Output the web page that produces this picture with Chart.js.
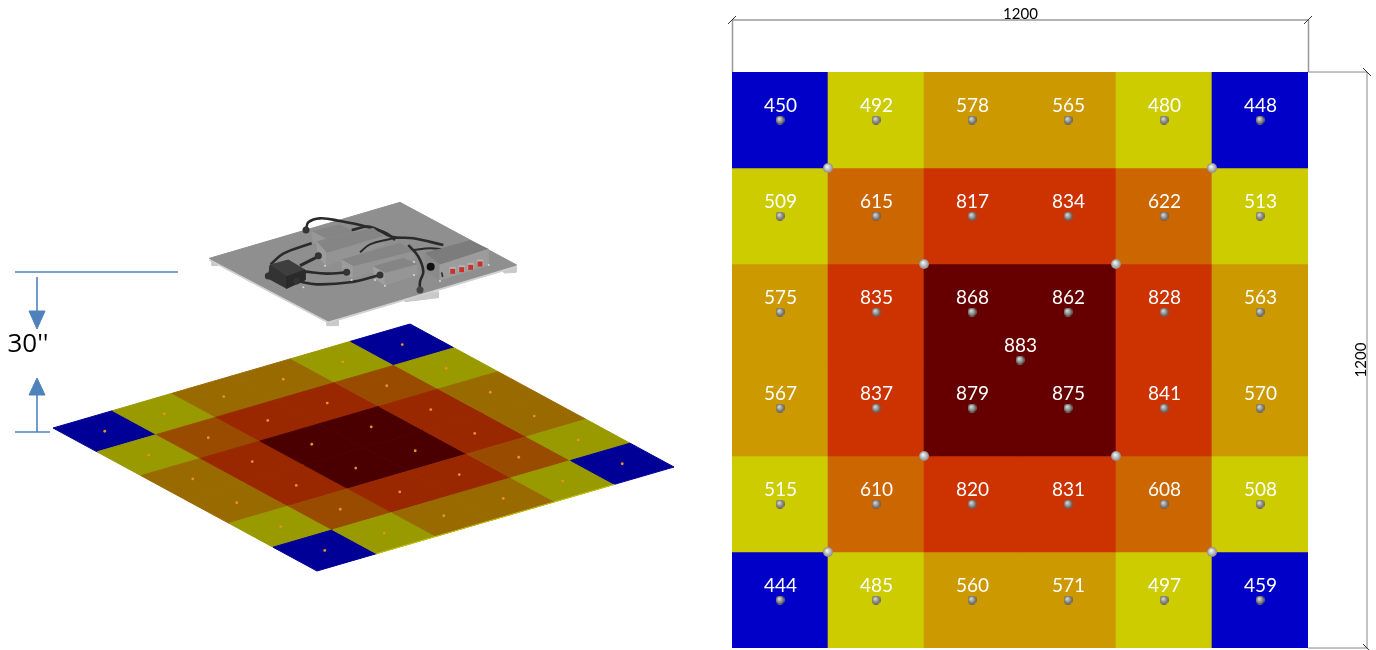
<!DOCTYPE html>
<html>
<head>
<meta charset="utf-8">
<title>Illuminance map</title>
<script src="https://cdn.jsdelivr.net/npm/chart.js@4"></script>
<style>
    html, body { margin: 0; padding: 0; background: #fff; overflow: hidden; }
    canvas { position: absolute; top: 0; }
    #isoChart { left: 0; }
    #mapChart { left: 690px; }
</style>
</head>
<body>
<canvas id="isoChart" width="690" height="650"></canvas>
<canvas id="mapChart" width="686" height="650"></canvas>
<script>
// valores
const columns = ['100', '300', '500', '700', '900', '1100'];
const row1 = [450, 492, 578, 565, 480, 448];
const row2 = [509, 615, 817, 834, 622, 513];
const row3 = [575, 835, 868, 862, 828, 563];
const row4 = [567, 837, 879, 875, 841, 570];
const row5 = [515, 610, 820, 831, 608, 508];
const row6 = [444, 485, 560, 571, 497, 459];
const rows = [row1, row2, row3, row4, row5, row6];
const centerValue = 883;
const dimensionLabel = '1200';
const heightLabel = "30''";

const CELL = 200;
const bandLimits = [470, 540, 600, 700, 850, 9999];
const bandColors = ['#0000c8', '#cccc00', '#cc9900', '#cc6600', '#cc3300', '#660000'];
const isoColors = ['#000096', '#999900', '#996a00', '#994c00', '#992800', '#4a0000'];

function band(v) {
    return bandLimits.findIndex(function (l) { return v < l; });
}

// bolinhas dos sensores
function sphere(size, light, dark) {
    const c = document.createElement('canvas');
    c.width = size; c.height = size;
    const g = c.getContext('2d');
    const r = size / 2;
    const grad = g.createRadialGradient(r * 0.8, r * 0.7, 0.5, r, r, r);
    grad.addColorStop(0, light);
    grad.addColorStop(1, dark);
    g.fillStyle = grad;
    g.beginPath();
    g.arc(r, r, r, 0, Math.PI * 2);
    g.fill();
    return c;
}

const sensorPoints = [];
rows.forEach(function (row, r) {
    row.forEach(function (v, c) {
        sensorPoints.push({ x: c * CELL + CELL / 2, y: r * CELL + CELL / 2, v: v });
    });
});
sensorPoints.push({ x: 600, y: 600, v: centerValue });
const cornerPoints = [[200, 200], [1000, 200], [400, 400], [800, 400], [400, 800], [800, 800], [200, 1000], [1000, 1000]]
    .map(function (p) { return { x: p[0], y: p[1] }; });

// ---- mapa da direita ----
const valueLabels = {
    id: 'valueLabels',
    afterDatasetsDraw: function (chart) {
        const g = chart.ctx;
        const xs = chart.scales.x2, ys = chart.scales.y2;
        g.save();
        g.fillStyle = '#fff';
        g.font = '19px Lato';
        g.textAlign = 'center';
        g.textBaseline = 'middle';
        sensorPoints.forEach(function (p) {
            g.fillText(p.v, xs.getPixelForValue(p.x) + 0.5, ys.getPixelForValue(p.y) - 14);
        });
        g.restore();
    }
};

const dimensions = {
    id: 'dimensions',
    afterDraw: function (chart) {
        const g = chart.ctx;
        const xs = chart.scales.x2, ys = chart.scales.y2;
        const x0 = xs.getPixelForValue(0), x1 = xs.getPixelForValue(1200);
        const y0 = ys.getPixelForValue(0), y1 = ys.getPixelForValue(1200);
        const topY = y0 - 52, rightX = x1 + 59;
        function seg(color, width, a, b, c, d) {
            g.strokeStyle = color;
            g.lineWidth = width;
            g.beginPath();
            g.moveTo(a, b);
            g.lineTo(c, d);
            g.stroke();
        }
        g.save();
        seg('#999', 1.5, x0 + 0.5, topY, x1, topY);
        seg('#999', 1.5, x0 + 0.5, topY, x0 + 0.5, y0);
        seg('#999', 1.5, x1 + 0.5, topY, x1 + 0.5, y0);
        seg('#888', 1, x1, y0, rightX, y0);
        seg('#888', 1, x1, y1, rightX, y1);
        seg('#888', 1, rightX, y0, rightX, y1);
        seg('#333', 1, x0 - 4, topY + 4, x0 + 4, topY - 4);
        seg('#333', 1, x1 - 4, topY + 4, x1 + 4, topY - 4);
        seg('#333', 1, rightX - 4, y0 - 4, rightX + 4, y0 + 4);
        seg('#333', 1, rightX - 4, y1 - 4, rightX + 4, y1 + 4);
        g.fillStyle = '#000';
        g.font = '15px Lato';
        g.textAlign = 'center';
        g.textBaseline = 'middle';
        g.fillText(dimensionLabel, (x0 + x1) / 2 + 0.5, topY - 6);
        g.translate(rightX - 6, (y0 + y1) / 2);
        g.rotate(-Math.PI / 2);
        g.fillText(dimensionLabel, 0, 0);
        g.restore();
    }
};

const cellDatasets = rows.map(function (row) {
    return {
        type: 'bar',
        data: row.map(function () { return CELL; }),
        backgroundColor: row.map(function (v) { return bandColors[band(v)]; }),
        borderWidth: 0,
        grouped: false,
        barPercentage: 1,
        categoryPercentage: 1,
        xAxisID: 'x',
        yAxisID: 'y',
        order: 5
    };
});

new Chart(document.getElementById('mapChart'), {
    data: {
        labels: columns,
        datasets: cellDatasets.concat([
            {
                type: 'scatter',
                data: sensorPoints,
                pointStyle: sphere(9, '#d8d8d8', '#5a5a5a'),
                pointRadius: 4.5,
                xAxisID: 'x2',
                yAxisID: 'y2',
                order: 1
            },
            {
                type: 'scatter',
                data: cornerPoints,
                pointStyle: sphere(10, '#f2f2f2', '#8a8a8a'),
                pointRadius: 5,
                xAxisID: 'x2',
                yAxisID: 'y2',
                clip: false,
                order: 1
            }
        ])
    },
    options: {
        responsive: false,
        animation: false,
        layout: { autoPadding: false, padding: { left: 42, right: 68, top: 72, bottom: 2 } },
        plugins: { legend: { display: false }, tooltip: { enabled: false } },
        scales: {
            x: { display: false, stacked: true, offset: true, grid: { offset: true } },
            y: { display: false, stacked: true, reverse: true, min: 0, max: 1200 },
            x2: { type: 'linear', display: false, min: 0, max: 1200 },
            y2: { type: 'linear', display: false, reverse: true, min: 0, max: 1200 }
        }
    },
    plugins: [valueLabels, dimensions]
});

// ---- vista isométrica da esquerda ----
function project(mx, my) {
    return {
        x: 53 + (357 * mx + 264 * my) / 1200,
        y: 428 + (-104 * mx + 143 * my) / 1200
    };
}
// coordenadas do recorte ampliado do equipamento
function z(p) { return { x: 200 + p[0] / 3, y: 195 + p[1] / 3 }; }

const layers = [];
function poly(points, color) {
    layers.push({
        data: points.concat([points[0]]),
        showLine: true,
        fill: 'shape',
        backgroundColor: color,
        borderColor: color,
        borderWidth: 1,
        pointRadius: 0
    });
}
function shape(list, color) { poly(list.map(z), color); }
function line(points, color, width, tension) {
    layers.push({
        data: points,
        showLine: true,
        fill: false,
        borderColor: color,
        borderWidth: width,
        tension: tension || 0,
        pointRadius: 0
    });
}
function cable(list, width) { line(list.map(z), '#2a2a2a', width || 2.6, 0.4); }
function dots(list, color, radius, style) {
    layers.push({
        data: list,
        showLine: false,
        pointRadius: radius,
        pointStyle: style || 'circle',
        pointBackgroundColor: color,
        pointBorderWidth: 0
    });
}

// placa de sensores
rows.forEach(function (row, r) {
    row.forEach(function (v, c) {
        const x = c * CELL, y = r * CELL;
        poly([project(x, y), project(x + CELL, y), project(x + CELL, y + CELL), project(x, y + CELL)], isoColors[band(v)]);
    });
});
line([project(200, 1200), project(1000, 1200)], '#c4c400', 1);
dots(sensorPoints.slice(0, 36).map(function (p) { return project(p.x, p.y); }), '#e8902a', 1.4);

// equipamento
[[[35, 200], [52, 200], [52, 212], [35, 212]],
 [[380, 375], [415, 375], [415, 392], [380, 392]],
 [[610, 305], [715, 290], [715, 308], [615, 320]],
 [[908, 220], [948, 215], [948, 232], [912, 234]]].forEach(function (f) { shape(f, '#c9c9c9'); });
shape([[28, 196], [600, 28], [950, 216], [385, 384]], '#d0d0d0');
shape([[28, 190], [600, 22], [950, 210], [385, 378]], '#8f8f8f');

shape([[335, 110], [420, 90], [460, 110], [375, 130]], '#858585');
shape([[335, 110], [375, 130], [378, 152], [340, 142]], '#989898');
cable([[318, 105], [325, 82], [360, 70], [420, 78], [500, 95], [560, 115], [585, 135]]);
cable([[455, 105], [510, 95], [575, 125], [640, 130], [730, 150]]);

shape([[350, 140], [520, 100], [550, 125], [380, 175]], '#858585');
shape([[350, 140], [380, 175], [380, 212], [355, 185]], '#9c9c9c');
shape([[380, 175], [550, 125], [552, 150], [380, 212]], '#949494');
cable([[480, 172], [510, 148], [570, 132], [590, 128]], 2);

shape([[425, 195], [600, 145], [640, 170], [460, 215]], '#858585');
shape([[425, 195], [460, 215], [460, 250], [430, 235]], '#9c9c9c');
shape([[460, 215], [640, 170], [640, 192], [460, 250]], '#949494');

shape([[520, 215], [610, 190], [650, 210], [555, 235]], '#858585');
shape([[520, 215], [555, 235], [555, 270], [525, 250]], '#a0a0a0');
shape([[555, 235], [650, 210], [650, 240], [555, 270]], '#969696');

cable([[212, 208], [250, 176], [335, 145]]);
cable([[300, 212], [360, 182]], 3);
cable([[315, 230], [380, 236], [440, 232]]);
cable([[290, 258], [350, 268], [450, 262], [540, 240]]);

shape([[210, 210], [265, 195], [315, 225], [260, 245]], '#3e3e3e');
shape([[210, 210], [260, 245], [260, 280], [205, 250]], '#333333');
shape([[260, 245], [315, 225], [315, 255], [260, 280]], '#2a2a2a');
dots([[205, 243], [290, 258], [355, 182], [440, 232], [540, 240], [318, 105]].map(z), '#333333', 3.5);

cable([[660, 285], [660, 260], [670, 230], [655, 185], [625, 150]]);
cable([[640, 165], [690, 160], [725, 162]], 2);
dots([[660, 285]].map(z), '#444444', 3.5);

shape([[675, 175], [810, 137], [865, 163], [720, 210]], '#7c7c7c');
shape([[675, 175], [720, 210], [720, 255], [678, 230]], '#8a8a8a');
shape([[720, 210], [865, 163], [865, 210], [720, 255]], '#9c9c9c');
dots([[692, 215]].map(z), '#111111', 4);
dots([[758, 225], [785, 220], [812, 213], [840, 203]].map(z), '#b4b4b4', 4.5, 'rect');
dots([[758, 229], [785, 224], [812, 217], [840, 207]].map(z), '#c8322d', 3.5, 'rect');
dots([[375, 212], [455, 255], [525, 255], [555, 272], [310, 277], [642, 200], [642, 240], [720, 258], [866, 210]].map(z), '#d8d8d8', 1);
cable([[725, 232], [728, 246]], 1.6);

// cotas e setas dos 30''
const ARROW = '#4f81bd';
line([{ x: 15, y: 272 }, { x: 178, y: 272 }], ARROW, 1.6);
line([{ x: 37, y: 277 }, { x: 37, y: 316 }], ARROW, 1.6);
poly([{ x: 29, y: 311 }, { x: 45, y: 311 }, { x: 37, y: 329 }], ARROW);
line([{ x: 15, y: 432 }, { x: 50, y: 432 }], ARROW, 1.6);
line([{ x: 37, y: 432 }, { x: 37, y: 392 }], ARROW, 1.6);
poly([{ x: 29, y: 395 }, { x: 45, y: 395 }, { x: 37, y: 378 }], ARROW);

layers.forEach(function (l, i) { l.order = layers.length - i; });

const heightText = {
    id: 'heightText',
    afterDraw: function (chart) {
        const g = chart.ctx;
        g.save();
        g.fillStyle = '#000';
        g.font = '26px "Open Sans"';
        g.textAlign = 'center';
        g.textBaseline = 'middle';
        g.fillText(heightLabel, chart.scales.x.getPixelForValue(28), chart.scales.y.getPixelForValue(345));
        g.restore();
    }
};

new Chart(document.getElementById('isoChart'), {
    type: 'scatter',
    data: { datasets: layers },
    options: {
        responsive: false,
        animation: false,
        layout: { autoPadding: false },
        plugins: { legend: { display: false }, tooltip: { enabled: false } },
        scales: {
            x: { type: 'linear', display: false, min: 0, max: 690 },
            y: { type: 'linear', display: false, reverse: true, min: 0, max: 650 }
        }
    },
    plugins: [heightText]
});
</script>
</body>
</html>
